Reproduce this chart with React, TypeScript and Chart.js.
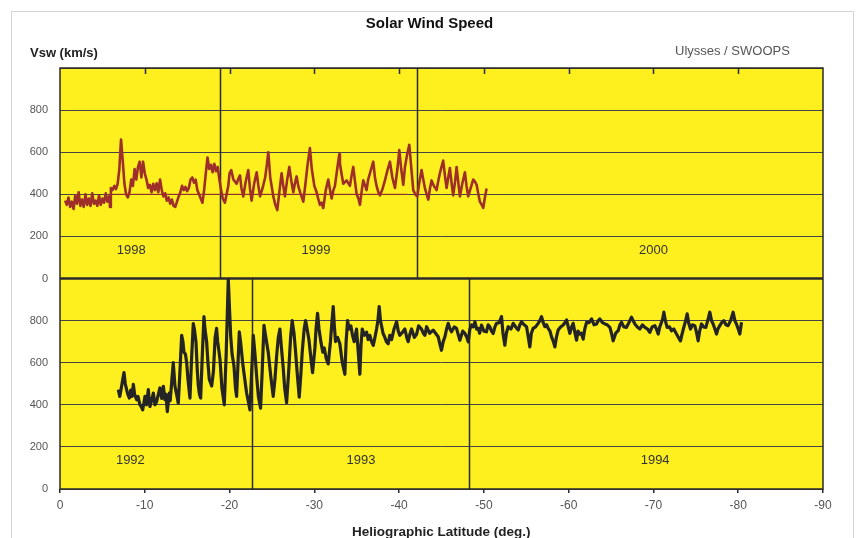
import React, { useEffect, useRef } from 'react';
import { Chart, registerables } from 'chart.js';

Chart.register(...registerables);

// ---------- data ----------
const xTickValues = [0, -10, -20, -30, -40, -50, -60, -70, -80, -90];

// Ulysses 1998-2000 (top panel), [latitude, Vsw km/s]
const series1998: [number, number][] = [
  [-0.6, 370], [-0.8, 350], [-1.0, 385], [-1.2, 340], [-1.4, 365], [-1.6, 330], [-1.8, 395], [-2.0, 355],
  [-2.2, 410], [-2.4, 345], [-2.6, 375], [-2.8, 340], [-3.0, 400], [-3.2, 350], [-3.4, 380], [-3.6, 345],
  [-3.8, 405], [-4.0, 355], [-4.2, 370], [-4.4, 345], [-4.6, 395], [-4.8, 350], [-5.0, 380], [-5.2, 360],
  [-5.4, 405], [-5.6, 365], [-5.8, 390], [-5.9, 340], [-6.0, 430], [-6.2, 420], [-6.4, 440], [-6.6, 425],
  [-6.8, 450], [-7.0, 520], [-7.2, 660], [-7.4, 560], [-7.6, 450], [-7.8, 400], [-8.0, 385], [-8.2, 410],
  [-8.4, 470], [-8.6, 440], [-8.8, 520], [-9.0, 470], [-9.2, 530], [-9.4, 555], [-9.6, 480], [-9.8, 555],
  [-10.0, 500], [-10.2, 470], [-10.4, 430], [-10.6, 445], [-10.8, 410], [-11.0, 450], [-11.2, 420], [-11.4, 452],
  [-11.6, 410], [-11.8, 470], [-12.0, 420], [-12.2, 390], [-12.4, 405], [-12.6, 370], [-12.8, 385], [-13.0, 355],
  [-13.2, 375], [-13.4, 345], [-13.6, 340], [-13.8, 365], [-14.0, 390], [-14.2, 410], [-14.4, 440], [-14.6, 420],
  [-14.8, 435], [-15.0, 415], [-15.2, 430], [-15.4, 470], [-15.6, 480], [-15.8, 455], [-16.0, 470], [-16.2, 420],
  [-16.4, 400], [-16.6, 380], [-16.8, 360], [-17.0, 420], [-17.2, 500], [-17.4, 575], [-17.6, 520], [-17.8, 540],
  [-18.0, 505], [-18.2, 545], [-18.4, 510], [-18.6, 530], [-18.8, 470], [-19.0, 420], [-19.2, 380], [-19.45, 360],
  [-19.65, 400], [-19.85, 440], [-20.0, 500], [-20.2, 515], [-20.45, 470], [-20.83, 450], [-21.0, 470], [-21.23, 490],
  [-21.4, 430], [-21.62, 390], [-21.9, 460], [-22.21, 515], [-22.4, 430], [-22.6, 370], [-22.9, 450], [-23.2, 505],
  [-23.4, 440], [-23.6, 390], [-23.9, 430], [-24.2, 480], [-24.4, 540], [-24.57, 600], [-24.8, 480], [-25.16, 390],
  [-25.4, 350], [-25.63, 325], [-25.9, 420], [-26.14, 500], [-26.3, 450], [-26.53, 390], [-26.8, 470], [-27.05, 530],
  [-27.3, 460], [-27.52, 410], [-27.7, 450], [-27.91, 485], [-28.1, 440], [-28.4, 400], [-28.7, 365], [-28.95, 450],
  [-29.2, 540], [-29.48, 620], [-29.7, 520], [-30.0, 440], [-30.27, 410], [-30.45, 380], [-30.66, 350], [-30.85, 360],
  [-31.05, 335], [-31.35, 420], [-31.64, 470], [-31.85, 420], [-32.04, 380], [-32.25, 420], [-32.43, 440], [-32.7, 520],
  [-32.94, 590], [-33.02, 545], [-33.2, 500], [-33.41, 450], [-33.81, 466], [-34.2, 440], [-34.4, 490], [-34.59, 530],
  [-34.8, 460], [-34.99, 400], [-35.2, 380], [-35.38, 350], [-35.6, 420], [-35.77, 466], [-36.0, 440], [-36.16, 420],
  [-36.35, 470], [-36.56, 500], [-36.95, 555], [-37.15, 480], [-37.34, 440], [-37.55, 410], [-37.74, 395], [-38.0, 420],
  [-38.33, 466], [-38.6, 510], [-38.92, 555], [-39.2, 480], [-39.51, 430], [-39.8, 520], [-40.02, 610], [-40.25, 520],
  [-40.49, 445], [-40.69, 530], [-40.95, 590], [-41.2, 635], [-41.45, 520], [-41.67, 420], [-41.9, 400], [-42.14, 390],
  [-42.4, 460], [-42.65, 515], [-42.85, 470], [-43.04, 430], [-43.25, 400], [-43.44, 375], [-43.65, 430], [-43.83, 466],
  [-44.1, 440], [-44.42, 420], [-44.6, 460], [-44.81, 500], [-45.0, 530], [-45.2, 560], [-45.4, 490], [-45.6, 430],
  [-45.8, 480], [-45.99, 525], [-46.2, 450], [-46.38, 395], [-46.6, 460], [-46.78, 530], [-47.0, 450], [-47.17, 390],
  [-47.45, 450], [-47.76, 505], [-47.95, 440], [-48.15, 390], [-48.45, 430], [-48.74, 470], [-48.95, 460], [-49.14, 445],
  [-49.35, 400], [-49.53, 365], [-49.75, 350], [-49.92, 335], [-50.1, 380], [-50.32, 428],
];

// thin red reference line at 400 km/s in the top panel
const ref1998: [number, number][] = [[-5.9, 400], [-41.0, 400]];

// Ulysses 1992-1994 (bottom panel), [latitude, Vsw km/s]
const series1992: [number, number][] = [
  [-6.88, 472], [-7.05, 440], [-7.27, 488], [-7.4, 520], [-7.55, 553], [-7.7, 500], [-7.86, 472], [-8.0, 450],
  [-8.18, 432], [-8.35, 470], [-8.5, 440], [-8.65, 497], [-8.8, 450], [-9.04, 424], [-9.2, 440], [-9.43, 400],
  [-9.6, 390], [-9.75, 376], [-9.9, 410], [-10.02, 440], [-10.2, 400], [-10.42, 472], [-10.5, 430], [-10.61, 392],
  [-10.8, 420], [-11.01, 456], [-11.2, 400], [-11.4, 416], [-11.6, 450], [-11.79, 480], [-12.0, 430], [-12.19, 488],
  [-12.38, 424], [-12.5, 450], [-12.66, 368], [-12.89, 456], [-13.0, 420], [-13.17, 505], [-13.36, 600], [-13.56, 488],
  [-13.75, 450], [-13.95, 408], [-14.1, 520], [-14.35, 730], [-14.5, 700], [-14.62, 650], [-14.8, 640], [-14.94, 600],
  [-15.1, 520], [-15.33, 432], [-15.5, 600], [-15.72, 786], [-15.85, 760], [-16.04, 698], [-16.2, 560], [-16.31, 493],
  [-16.45, 450], [-16.59, 432], [-16.8, 650], [-16.98, 819], [-17.1, 760], [-17.3, 698], [-17.45, 600], [-17.61, 521],
  [-17.89, 489], [-18.1, 560], [-18.3, 720], [-18.47, 763], [-18.6, 700], [-18.87, 617], [-19.1, 480], [-19.38, 400],
  [-19.6, 640], [-19.85, 996], [-20.0, 850], [-20.13, 730], [-20.3, 640], [-20.52, 585], [-20.7, 480], [-20.83, 440],
  [-21.0, 600], [-21.15, 746], [-21.3, 700], [-21.54, 601], [-21.8, 520], [-22.01, 456], [-22.2, 420], [-22.41, 376],
  [-22.6, 550], [-22.8, 730], [-23.0, 640], [-23.19, 537], [-23.4, 440], [-23.66, 384], [-23.85, 560], [-24.06, 778],
  [-24.2, 740], [-24.56, 650], [-24.85, 540], [-25.15, 440], [-25.35, 520], [-25.55, 630], [-25.75, 720], [-25.94, 760],
  [-26.1, 680], [-26.33, 575], [-26.5, 480], [-26.73, 410], [-27.0, 575], [-27.2, 720], [-27.39, 800], [-27.6, 740],
  [-27.79, 650], [-28.0, 540], [-28.22, 436], [-28.4, 540], [-28.57, 650], [-28.8, 760], [-28.97, 800], [-29.15, 760],
  [-29.36, 710], [-29.6, 620], [-29.79, 553], [-30.07, 670], [-30.2, 760], [-30.38, 835], [-30.55, 760], [-30.77, 700],
  [-31.0, 650], [-31.17, 670], [-31.4, 620], [-31.64, 594], [-31.9, 700], [-32.05, 780], [-32.23, 867], [-32.35, 780],
  [-32.5, 700], [-32.75, 720], [-33.01, 690], [-33.3, 600], [-33.6, 545], [-33.75, 700], [-33.92, 800], [-34.1, 760],
  [-34.31, 775], [-34.5, 730], [-34.7, 700], [-34.98, 760], [-35.2, 640], [-35.37, 545], [-35.5, 680], [-35.65, 760],
  [-35.9, 730], [-36.16, 745], [-36.35, 710], [-36.55, 730], [-36.75, 700], [-36.95, 682], [-37.15, 720], [-37.34, 760],
  [-37.5, 800], [-37.65, 867], [-37.8, 800], [-37.93, 775], [-38.1, 740], [-38.32, 720], [-38.5, 700], [-38.71, 690],
  [-38.9, 730], [-39.11, 710], [-39.4, 760], [-39.7, 795], [-39.9, 750], [-40.09, 730], [-40.4, 745], [-40.68, 760],
  [-40.9, 720], [-41.07, 700], [-41.3, 740], [-41.47, 760], [-41.8, 720], [-42.06, 735], [-42.3, 775], [-42.64, 760],
  [-42.85, 740], [-43.04, 730], [-43.24, 771], [-43.6, 740], [-44.02, 755], [-44.3, 740], [-44.61, 723], [-44.8, 690],
  [-45.0, 659], [-45.2, 700], [-45.4, 723], [-45.6, 760], [-45.79, 787], [-46.0, 760], [-46.18, 747], [-46.5, 770],
  [-46.77, 763], [-47.0, 730], [-47.17, 707], [-47.5, 750], [-47.76, 739], [-48.0, 720], [-48.15, 699], [-48.35, 760],
  [-48.54, 779], [-48.75, 770], [-48.94, 795], [-49.15, 760], [-49.33, 763], [-49.5, 740], [-49.72, 779], [-50.0, 750],
  [-50.31, 747], [-50.5, 780], [-50.7, 771], [-50.9, 750], [-51.1, 739], [-51.3, 770], [-51.49, 787], [-51.8, 790],
  [-52.08, 819], [-52.25, 740], [-52.47, 683], [-52.65, 740], [-52.87, 771], [-53.2, 760], [-53.46, 787], [-53.75, 770],
  [-54.05, 755], [-54.25, 780], [-54.44, 795], [-54.75, 780], [-55.03, 771], [-55.2, 730], [-55.42, 675], [-55.6, 740],
  [-55.81, 763], [-56.1, 770], [-56.4, 787], [-56.6, 800], [-56.8, 819], [-57.0, 790], [-57.19, 771], [-57.4, 780],
  [-57.58, 763], [-57.8, 750], [-57.98, 723], [-58.2, 700], [-58.37, 675], [-58.55, 720], [-58.76, 755], [-59.05, 770],
  [-59.35, 779], [-59.55, 790], [-59.75, 803], [-59.95, 770], [-60.14, 739], [-60.35, 770], [-60.53, 787], [-60.75, 740],
  [-60.93, 707], [-61.1, 750], [-61.32, 736], [-61.5, 740], [-61.71, 712], [-61.9, 760], [-62.11, 792], [-62.4, 790],
  [-62.7, 808], [-63.0, 780], [-63.29, 784], [-63.5, 800], [-63.68, 808], [-64.0, 790], [-64.27, 784], [-64.55, 780],
  [-64.86, 768], [-65.05, 740], [-65.25, 704], [-65.55, 740], [-65.84, 752], [-66.05, 780], [-66.23, 792], [-66.5, 770],
  [-66.82, 768], [-67.1, 790], [-67.41, 816], [-67.6, 800], [-67.81, 784], [-68.1, 770], [-68.4, 760], [-68.7, 780],
  [-68.99, 768], [-69.3, 760], [-69.57, 744], [-69.85, 770], [-70.16, 776], [-70.35, 760], [-70.56, 736], [-70.75, 770],
  [-70.95, 792], [-71.1, 810], [-71.23, 840], [-71.4, 800], [-71.62, 768], [-71.9, 770], [-72.13, 752], [-72.4, 760],
  [-72.72, 736], [-72.95, 720], [-73.19, 704], [-73.4, 740], [-73.58, 768], [-73.8, 800], [-73.98, 832], [-74.15, 790],
  [-74.37, 760], [-74.6, 780], [-74.88, 776], [-75.1, 740], [-75.27, 704], [-75.45, 750], [-75.67, 784], [-75.9, 770],
  [-76.18, 768], [-76.4, 800], [-76.65, 840], [-76.85, 800], [-77.04, 784], [-77.25, 760], [-77.44, 736], [-77.6, 760],
  [-77.83, 776], [-78.05, 790], [-78.3, 800], [-78.55, 780], [-78.81, 776], [-79.1, 800], [-79.4, 840], [-79.6, 800],
  [-79.79, 784], [-80.0, 760], [-80.19, 736], [-80.39, 792],
];

// year boundaries (latitude) and year labels
const topYearBounds = [-18.9, -42.1];
const bottomYearBounds = [-22.6, -48.2];
const topYearNames = ['1998', '1999', '2000'];
const topYearLats = [-8.4, -30.2, -70.0];
const bottomYearNames = ['1992', '1993', '1994'];
const bottomYearLats = [-8.3, -35.5, -70.2];
const yearLabelValue = 135;

// ---------- styles ----------
const YELLOW = '#fef01f';
const RED = '#9e2e2a';
const BLACK = '#242424';
const FONT = '"Liberation Sans", Arial, Helvetica, sans-serif';

const toXY = (arr: [number, number][]) => arr.map(([x, y]) => ({ x, y }));

const panelPlugin = {
  id: 'panelPlugin',
  beforeDraw(chart: any) {
    const { ctx, chartArea: a } = chart;
    ctx.save();
    ctx.fillStyle = YELLOW;
    ctx.fillRect(a.left, a.top, a.right - a.left, a.bottom - a.top);
    ctx.restore();
  },
  beforeDatasetsDraw(chart: any) {
    const { ctx } = chart;
    const x = chart.scales.x;
    const yt = chart.scales.yTop;
    const yb = chart.scales.yBot;
    ctx.save();
    ctx.strokeStyle = '#2a2a2a';
    ctx.lineWidth = 1.5;
    topYearBounds.forEach((lat) => {
      const px = Math.round(x.getPixelForValue(lat)) + 0.5;
      ctx.beginPath();
      ctx.moveTo(px, yt.top);
      ctx.lineTo(px, yt.bottom);
      ctx.stroke();
    });
    bottomYearBounds.forEach((lat) => {
      const px = Math.round(x.getPixelForValue(lat)) + 0.5;
      ctx.beginPath();
      ctx.moveTo(px, yb.top);
      ctx.lineTo(px, yb.bottom);
      ctx.stroke();
    });
    // small inward ticks along the top edge
    ctx.lineWidth = 1.5;
    xTickValues.forEach((v) => {
      if (v === 0 || v === -90) return;
      const px = Math.round(x.getPixelForValue(v)) + 0.5;
      ctx.beginPath();
      ctx.moveTo(px, yt.top);
      ctx.lineTo(px, yt.top + 6);
      ctx.stroke();
    });
    ctx.restore();
  },
  afterDatasetsDraw(chart: any) {
    const { ctx, chartArea: a } = chart;
    const x = chart.scales.x;
    const yt = chart.scales.yTop;
    const yb = chart.scales.yBot;
    ctx.save();
    ctx.strokeStyle = '#2a2a2a';
    ctx.lineWidth = 1.5;
    ctx.strokeRect(a.left, a.top, a.right - a.left, a.bottom - a.top);
    ctx.lineWidth = 2.5;
    ctx.beginPath();
    ctx.moveTo(a.left, yb.top);
    ctx.lineTo(a.right, yb.top);
    ctx.stroke();
    ctx.fillStyle = '#333';
    ctx.font = `13px ${FONT}`;
    ctx.textAlign = 'center';
    ctx.textBaseline = 'middle';
    topYearNames.forEach((n, i) => {
      ctx.fillText(n, x.getPixelForValue(topYearLats[i]), yt.getPixelForValue(yearLabelValue));
    });
    bottomYearNames.forEach((n, i) => {
      ctx.fillText(n, x.getPixelForValue(bottomYearLats[i]), yb.getPixelForValue(yearLabelValue));
    });
    ctx.restore();
  },
};

const yAxis = (stackWeight: number) => ({
  type: 'linear' as const,
  position: 'left' as const,
  stack: 'panels',
  stackWeight,
  min: 0,
  max: 1000,
  afterFit: (s: any) => {
    s.width = 60;
  },
  border: { display: false },
  grid: { color: '#444', lineWidth: 1, drawTicks: false },
  ticks: {
    stepSize: 200,
    padding: 12,
    color: '#555',
    font: { size: 11, family: FONT },
    callback: (v: any) => (v === 1000 ? '' : String(v)),
  },
});

export default function App() {
  const ref = useRef<HTMLCanvasElement | null>(null);

  useEffect(() => {
    if (!ref.current) return;
    const chart = new Chart(ref.current, {
      type: 'line',
      data: {
        datasets: [
          {
            label: 'ref',
            data: toXY(ref1998),
            yAxisID: 'yTop',
            borderColor: RED,
            borderWidth: 1,
            pointRadius: 0,
          },
          {
            label: '1998-2000',
            data: toXY(series1998),
            yAxisID: 'yTop',
            borderColor: RED,
            borderWidth: 2.6,
            pointRadius: 0,
            tension: 0,
            borderJoinStyle: 'round',
          },
          {
            label: '1992-1994',
            data: toXY(series1992),
            yAxisID: 'yBot',
            borderColor: BLACK,
            borderWidth: 3.2,
            pointRadius: 0,
            tension: 0,
            borderJoinStyle: 'round',
          },
        ],
      },
      options: {
        animation: false,
        responsive: true,
        maintainAspectRatio: false,
        layout: { padding: { left: 0, right: 36, top: 68, bottom: 0 } },
        plugins: { legend: { display: false }, tooltip: { enabled: false }, title: { display: false } },
        scales: {
          x: {
            type: 'linear',
            min: -90,
            max: 0,
            reverse: true,
            afterFit: (s: any) => {
              s.height = 49;
            },
            afterBuildTicks: (s: any) => {
              s.ticks = xTickValues.map((v) => ({ value: v }));
            },
            border: { display: false },
            grid: { drawOnChartArea: false, drawTicks: true, tickLength: 4, color: '#2a2a2a', lineWidth: 1.5 },
            ticks: {
              padding: 5,
              color: '#555',
              font: { size: 12, family: FONT },
              callback: (v: any) => String(v),
              maxRotation: 0,
              autoSkip: false,
            },
          },
          yBot: yAxis(1),
          yTop: yAxis(1),
        } as any,
      },
      plugins: [panelPlugin],
    });
    return () => chart.destroy();
  }, []);

  const text: React.CSSProperties = { position: 'absolute', fontFamily: FONT, whiteSpace: 'nowrap', margin: 0 };

  return (
    <div style={{ position: 'absolute', left: 0, top: 0, width: 859, height: 538, background: '#fff', overflow: 'hidden' }}>
      <div style={{ position: 'absolute', left: 11, top: 11, width: 841, height: 560, border: '1px solid #d4d4d4' }} />
      <div style={{ position: 'absolute', left: 0, top: 0, width: 859, height: 538 }}>
        <canvas ref={ref} />
      </div>
      <div style={{ ...text, left: 0, width: 859, top: 15, textAlign: 'center', fontSize: 15, lineHeight: '15px', fontWeight: 'bold', color: '#111' }}>
        Solar Wind Speed
      </div>
      <div style={{ ...text, left: 30, top: 46, fontSize: 13, lineHeight: '13px', fontWeight: 'bold', color: '#222' }}>
        Vsw (km/s)
      </div>
      <div style={{ ...text, left: 675, top: 44, fontSize: 13, lineHeight: '13px', color: '#555' }}>
        Ulysses / SWOOPS
      </div>
      <div style={{ ...text, left: 352, top: 525, fontSize: 13.5, lineHeight: '13.5px', fontWeight: 'bold', color: '#222' }}>
        Heliographic Latitude (deg.)
      </div>
    </div>
  );
}
